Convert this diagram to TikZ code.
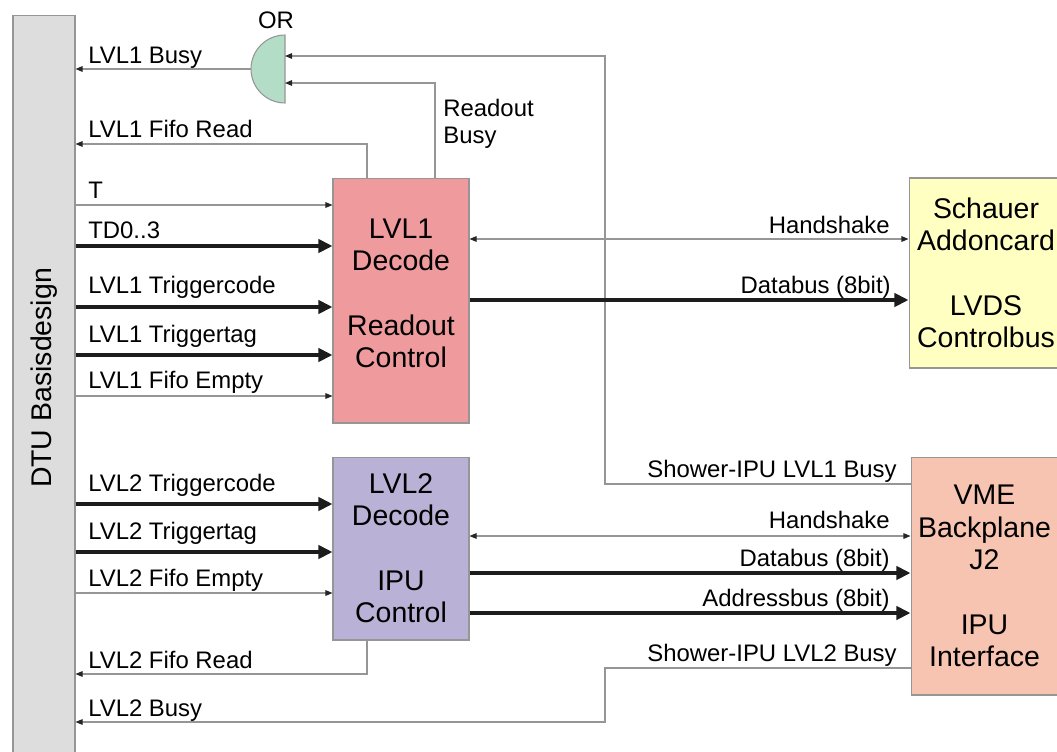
\documentclass[tikz,border=0pt]{standalone}
\usepackage{fontspec}
\setmainfont{Liberation Sans}
\usepackage{xcolor}
\usepackage{tikz}
\usetikzlibrary{arrows.meta, positioning}
\definecolor{dtugray}{RGB}{221,221,221}
\definecolor{lvlonered}{RGB}{239,155,158}
\definecolor{lvltwoblue}{RGB}{186,177,214}
\definecolor{addonyellow}{RGB}{255,255,194}
\definecolor{vmesalmon}{RGB}{246,196,176}
\definecolor{orgreen}{RGB}{179,221,199}
\definecolor{wiregray}{RGB}{150,150,150}
\definecolor{busblack}{RGB}{28,28,28}
\newcommand{\boxfont}{\fontsize{16.2}{18.4}\selectfont}
\newcommand{\lblfont}{\fontsize{13.6}{15.2}\selectfont}

\begin{document}
\begin{tikzpicture}[x=0.02cm, y=-0.02cm,
  unit/.style={draw=wiregray, line width=0.6pt, align=center, font=\boxfont, inner sep=0pt},
  sig/.style={draw=wiregray, line width=0.6pt, -{Triangle[length=4pt, width=3.2pt, color=black!85]}},
  sigboth/.style={draw=wiregray, line width=0.6pt, {Triangle[length=4pt, width=3.2pt, color=black!85]}-{Triangle[length=4pt, width=3.2pt, color=black!85]}},
  bus/.style={draw=busblack, line width=2.3pt, -{Triangle[length=8pt, width=7.5pt]}},
  lbl/.style={font=\lblfont, inner sep=0pt, anchor=base west},
  rlbl/.style={font=\lblfont, inner sep=0pt, anchor=base east}]
  \useasboundingbox (0,0) rectangle (1057,751);

  \node[unit, fill=dtugray, minimum width=1.24cm, minimum height=14.9cm] (dtu) at (44,387.5) {};
  \node[font=\boxfont, rotate=90] (dtutext) at (44,378) {DTU Basisdesign};
  \node[unit, fill=lvlonered, minimum width=2.72cm, minimum height=4.9cm, text depth=0.28cm] (lvlone) at (401,300.5)
       {LVL1\\Decode\\[18.4pt]Readout\\Control};
  \node[unit, fill=lvltwoblue, minimum width=2.72cm, minimum height=3.66cm] (lvltwo) at (401,548.5)
       {LVL2\\Decode\\[18.4pt]IPU\\Control};
  \node[unit, fill=addonyellow, minimum width=3.08cm, minimum height=3.8cm] (addon) at (986,273)
       {Schauer\\Addoncard\\[18.4pt]LVDS\\Controlbus};
  \node[unit, fill=vmesalmon, minimum width=2.94cm, minimum height=4.76cm] (vme) at (984.5,576)
       {VME\\Backplane\\J2\\[18.4pt]IPU\\Interface};

  \coordinate (orgate) at (285,69);
  \draw[draw=wiregray, line width=0.6pt, fill=orgreen] (285,35) arc[start angle=90, end angle=270, radius=0.68cm] -- cycle;
  \node[font=\lblfont, inner sep=0pt, anchor=base] (orlbl) at (276,28) {OR};

  \foreach \y/\kind/\nm/\by/\txt in {205/sig/t/198/T, 246/bus/td/238/TD0..3,
      307/bus/lcode/293/LVL1 Triggercode, 355/bus/ltag/342/LVL1 Triggertag,
      396/sig/lempty/388/LVL1 Fifo Empty} {
    \draw[\kind] (dtu.east |- 0,\y) -- (lvlone.west |- 0,\y);
    \node[lbl] (in\nm) at (88,\by) {\txt};
  }
  \foreach \y/\kind/\nm/\by/\txt in {504/bus/mcode/491/LVL2 Triggercode,
      552/bus/mtag/539/LVL2 Triggertag, 593/sig/mempty/586/LVL2 Fifo Empty} {
    \draw[\kind] (dtu.east |- 0,\y) -- (lvltwo.west |- 0,\y);
    \node[lbl] (in\nm) at (88,\by) {\txt};
  }

  \draw[sig] (orgate |- 0,69) ++(-34,0) -- (dtu.east |- 0,69);
  \node[lbl] (outbusy) at (88,63) {LVL1 Busy};
  \draw[sig] (367,0 |- lvlone.north) |- (dtu.east |- 0,144);
  \node[lbl] (outread) at (88,137) {LVL1 Fifo Read};
  \draw[sig] (435,0 |- lvlone.north) |- (orgate |- 0,83);
  \node[lbl, align=left, anchor=base west] (rdbusy) at (443,143) {Readout\\Busy};
  \draw[sig] (vme.west |- 0,484) -| (605,56) -- (orgate |- 0,56);
  \node[rlbl] (shbusyone) at (897,477) {Shower-IPU LVL1 Busy};

  \draw[sig] (367,0 |- lvltwo.south) |- (dtu.east |- 0,674);
  \node[lbl] (outreadtwo) at (88,668) {LVL2 Fifo Read};
  \draw[sig] (vme.west |- 0,668) -| (605,722) -- (dtu.east |- 0,722);
  \node[lbl] (outbusytwo) at (88,716) {LVL2 Busy};
  \node[rlbl] (shbusytwo) at (897,661) {Shower-IPU LVL2 Busy};

  \draw[sigboth] (lvlone.east |- 0,239) -- (addon.west |- 0,239);
  \node[rlbl] (hsone) at (890,233) {Handshake};
  \draw[bus] (lvlone.east |- 0,300) -- (addon.west |- 0,300);
  \node[rlbl] (dbone) at (891,293) {Databus (8bit)};

  \draw[sigboth] (lvltwo.east |- 0,536) -- (vme.west |- 0,536);
  \node[rlbl] (hstwo) at (890,528) {Handshake};
  \draw[bus] (lvltwo.east |- 0,573) -- (vme.west |- 0,573);
  \node[rlbl] (dbtwo) at (890,566) {Databus (8bit)};
  \draw[bus] (lvltwo.east |- 0,613) -- (vme.west |- 0,613);
  \node[rlbl] (abtwo) at (890,606) {Addressbus (8bit)};
\end{tikzpicture}
\end{document}
